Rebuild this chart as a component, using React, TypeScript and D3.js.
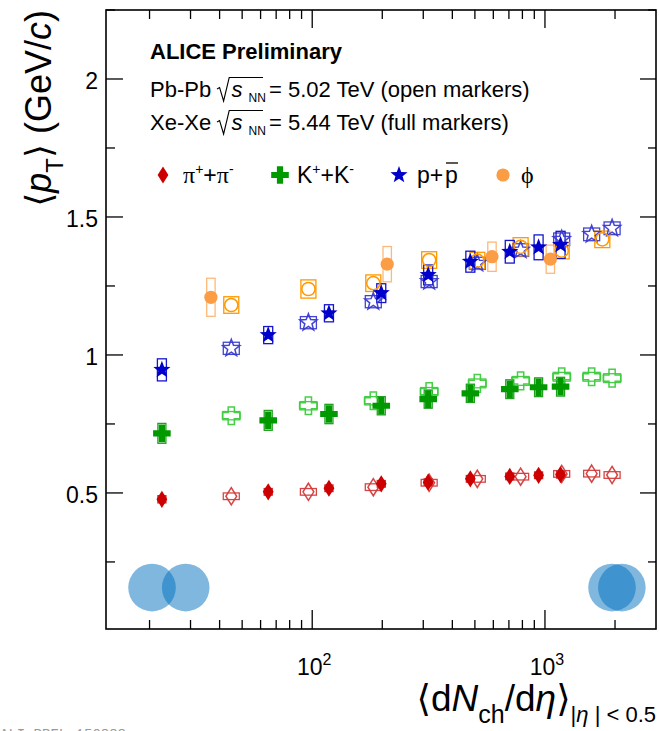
import React from 'react';
import * as d3 from 'd3';

// <dNch/deta> of the centrality classes
const pbpbMult = [1943, 1587, 1180, 786, 512, 318, 183, 96.3, 44.9];
const xexeMult = [1167, 939, 706, 478, 315, 198, 118, 64.7, 22.6];
const pbpbPhiMult = [1764, 1180, 786, 512, 318, 183, 96.3, 44.9];
const xexePhiMult = [1055, 592, 210, 36.7];

// <pT> (GeV/c), Pb-Pb 5.02 TeV
const pbpbPion = [0.565, 0.570, 0.569, 0.559, 0.551, 0.537, 0.521, 0.504, 0.488];
const pbpbKaon = [0.916, 0.921, 0.921, 0.906, 0.897, 0.867, 0.834, 0.816, 0.780];
const pbpbProton = [1.459, 1.437, 1.419, 1.380, 1.332, 1.266, 1.193, 1.117, 1.024];
const pbpbPhi = [1.419, 1.378, 1.392, 1.342, 1.344, 1.260, 1.239, 1.181];

// <pT> (GeV/c), Xe-Xe 5.44 TeV
const xexePion = [0.566, 0.564, 0.560, 0.551, 0.539, 0.533, 0.517, 0.504, 0.477];
const xexeKaon = [0.885, 0.883, 0.876, 0.861, 0.840, 0.816, 0.786, 0.763, 0.716];
const xexeProton = [1.399, 1.390, 1.374, 1.338, 1.290, 1.224, 1.151, 1.072, 0.946];
const xexePhi = [1.347, 1.356, 1.329, 1.209];

// systematic uncertainties (GeV/c)
const pbpbPionSys = [0.012, 0.012, 0.012, 0.012, 0.012, 0.012, 0.012, 0.012, 0.012];
const pbpbKaonSys = [0.016, 0.016, 0.016, 0.016, 0.016, 0.015, 0.015, 0.015, 0.015];
const pbpbProtonSys = [0.023, 0.023, 0.023, 0.023, 0.022, 0.022, 0.022, 0.022, 0.022];
const pbpbPhiSys = [0.030, 0.030, 0.033, 0.030, 0.030, 0.030, 0.033, 0.030];
const xexePionSys = [0.012, 0.012, 0.012, 0.012, 0.012, 0.012, 0.012, 0.012, 0.013];
const xexeKaonSys = [0.034, 0.034, 0.034, 0.033, 0.033, 0.033, 0.035, 0.036, 0.036];
const xexeProtonSys = [0.049, 0.045, 0.041, 0.038, 0.036, 0.034, 0.031, 0.031, 0.040];
const xexePhiSys = [0.051, 0.053, 0.064, 0.069];

// normalisation bands drawn at the bottom of the frame
const normPositions = [20.5, 28.6, 1942, 2140];
const normLevel = 0.157;

const yMajorTicks = [0.5, 1, 1.5, 2];
const yMinorTicks = [0.25, 0.75, 1.25, 1.75, 2.25];
const xMajorTicks = [100, 1000];
const xTickExponents = ['2', '3'];

const W = 659;
const H = 731;
const X0 = 106;
const X1 = 656;
const Y0 = 629;
const Y1 = 10;

const x = d3.scaleLog().domain([13, 3000]).range([X0, X1]);
const y = d3.scaleLinear().domain([0.007, 2.25]).range([Y0, Y1]);

const FONT = "'Liberation Sans', Arial, Helvetica, 'DejaVu Sans', sans-serif";
const SERIF = "'Liberation Serif', 'DejaVu Serif', serif";

type Shape = 'star' | 'cross' | 'diamond' | 'circle';

function starPath(R: number): string {
  const r = R * 0.42;
  const pts: string[] = [];
  for (let i = 0; i < 10; i++) {
    const a = (-90 + i * 36) * Math.PI / 180;
    const rr = i % 2 === 0 ? R : r;
    pts.push(`${(rr * Math.cos(a)).toFixed(2)},${(rr * Math.sin(a)).toFixed(2)}`);
  }
  return 'M' + pts.join('L') + 'Z';
}

function crossPath(s: number, a: number): string {
  return `M${-a},${-s}H${a}V${-a}H${s}V${a}H${a}V${s}H${-a}V${a}H${-s}V${-a}H${-a}Z`;
}

function diamondPath(w: number, h: number): string {
  return `M0,${-h}L${w},0L0,${h}L${-w},0Z`;
}

function Marker({ shape, cx, cy, color, open, scale = 1, opacity = 1 }: {
  shape: Shape; cx: number; cy: number; color: string; open: boolean; scale?: number; opacity?: number;
}) {
  const fill = open ? 'none' : color;
  const stroke = open ? color : 'none';
  const sw = open ? 1.5 : 0;
  const t = `translate(${cx},${cy})`;
  if (shape === 'circle') {
    return <circle cx={cx} cy={cy} r={6.6 * scale} fill={fill} stroke={stroke} strokeWidth={sw} opacity={opacity} />;
  }
  let d = '';
  if (shape === 'star') d = starPath(9 * scale);
  if (shape === 'cross') d = crossPath(8.8 * scale, 3.1 * scale);
  if (shape === 'diamond') d = diamondPath(5.4 * scale, 8.6 * scale);
  return <path d={d} transform={t} fill={fill} stroke={stroke} strokeWidth={sw} strokeLinejoin="miter" opacity={opacity} />;
}

type Series = {
  mult: number[];
  values: number[];
  sys: number[];
  shape: Shape;
  color: string;
  boxColor: string;
  open: boolean;
  boxHalfWidth: number;
  opacity: number;
};

const series: Series[] = [
  { mult: pbpbMult, values: pbpbPion, sys: pbpbPionSys, shape: 'diamond', color: '#d43b3b', boxColor: '#d43b3b', open: true, boxHalfWidth: 8, opacity: 0.95 },
  { mult: pbpbMult, values: pbpbKaon, sys: pbpbKaonSys, shape: 'cross', color: '#3ccc3c', boxColor: '#3ccc3c', open: true, boxHalfWidth: 8.5, opacity: 0.95 },
  { mult: pbpbMult, values: pbpbProton, sys: pbpbProtonSys, shape: 'star', color: '#3a3ad0', boxColor: '#3a3ad0', open: true, boxHalfWidth: 8, opacity: 0.95 },
  { mult: pbpbPhiMult, values: pbpbPhi, sys: pbpbPhiSys, shape: 'circle', color: '#ff9900', boxColor: '#ff9900', open: true, boxHalfWidth: 7.5, opacity: 1 },
  { mult: xexeMult, values: xexePion, sys: xexePionSys, shape: 'diamond', color: '#cc0000', boxColor: '#d42020', open: false, boxHalfWidth: 4, opacity: 1 },
  { mult: xexeMult, values: xexeKaon, sys: xexeKaonSys, shape: 'cross', color: '#009900', boxColor: '#1fa01f', open: false, boxHalfWidth: 4, opacity: 1 },
  { mult: xexeMult, values: xexeProton, sys: xexeProtonSys, shape: 'star', color: '#0000cc', boxColor: '#1515cc', open: false, boxHalfWidth: 4.5, opacity: 1 },
  { mult: xexePhiMult, values: xexePhi, sys: xexePhiSys, shape: 'circle', color: '#fa9d45', boxColor: '#ffb878', open: false, boxHalfWidth: 4.2, opacity: 1 },
];

const legendItems: { shape: Shape; color: string; mx: number; tx: number }[] = [
  { shape: 'diamond', color: '#cc0000', mx: 163, tx: 183 },
  { shape: 'cross', color: '#009900', mx: 280, tx: 297 },
  { shape: 'star', color: '#0000cc', mx: 399, tx: 417 },
  { shape: 'circle', color: '#fa9d45', mx: 503, tx: 521 },
];

function legendLabel(i: number) {
  const sup = { fontSize: 14 } as const;
  if (i === 0) {
    return (
      <>
        <tspan fontFamily={SERIF} fontSize={24}>π</tspan>
        <tspan {...sup} dy={-9}>+</tspan>
        <tspan dy={9}>+</tspan>
        <tspan fontFamily={SERIF} fontSize={24}>π</tspan>
        <tspan {...sup} dy={-9}>-</tspan>
      </>
    );
  }
  if (i === 1) {
    return (
      <>
        <tspan>K</tspan>
        <tspan {...sup} dy={-9}>+</tspan>
        <tspan dy={9}>+K</tspan>
        <tspan {...sup} dy={-9}>-</tspan>
      </>
    );
  }
  if (i === 2) {
    return (
      <>
        <tspan>p+</tspan>
        <tspan x={445}>p</tspan>
      </>
    );
  }
  return <tspan fontFamily={SERIF} fontSize={24}>ϕ</tspan>;
}

function Radical({ baseline }: { baseline: number }) {
  const b = baseline;
  return (
    <path
      d={`M217,${b - 8} L219.6,${b - 9.5} L223.6,${b + 4} L229.2,${b - 19.5} H263`}
      fill="none"
      stroke="#000"
      strokeWidth={1.1}
    />
  );
}

function EnergyLine({ baseline, system, text }: { baseline: number; system: string; text: string }) {
  return (
    <g>
      <text x={150} y={baseline} fontFamily={FONT} fontSize={22} fill="#000">
        {system}
      </text>
      <Radical baseline={baseline} />
      <text y={baseline} fontFamily={FONT} fontSize={22} fill="#000">
        <tspan x={231.5} fontStyle="italic">s</tspan>
        <tspan x={248.5} dy={5} fontSize={12}>NN</tspan>
        <tspan x={269} dy={-5}>{text}</tspan>
      </text>
    </g>
  );
}

export default function App() {
  const xMinor = x.ticks().filter((t) => t > 13 && t < 3000 && !xMajorTicks.includes(t));

  return (
    <svg
      width={W}
      height={H}
      viewBox={`0 0 ${W} ${H}`}
      style={{ position: 'absolute', left: 0, top: 0, background: '#fff' }}
    >
      <rect x={0} y={0} width={W} height={H} fill="#fff" />

      {/* normalisation uncertainty bands */}
      {normPositions.map((m, i) => (
        <circle key={`n${i}`} cx={x(m)} cy={y(normLevel)} r={23.8} fill="rgb(0,112,190)" fillOpacity={0.5} />
      ))}

      {/* systematic boxes */}
      {series.map((s, si) => (
        <g key={`b${si}`} opacity={s.opacity}>
          {s.mult.map((m, i) => {
            const cx = x(m);
            const top = y(s.values[i] + s.sys[i]);
            const bot = y(s.values[i] - s.sys[i]);
            return (
              <rect
                key={i}
                x={cx - s.boxHalfWidth}
                y={top}
                width={s.boxHalfWidth * 2}
                height={bot - top}
                fill="none"
                stroke={s.boxColor}
                strokeWidth={1.3}
              />
            );
          })}
        </g>
      ))}

      {/* data points */}
      {series.map((s, si) => (
        <g key={`m${si}`}>
          {s.mult.map((m, i) => (
            <Marker
              key={i}
              shape={s.shape}
              cx={x(m)}
              cy={y(s.values[i])}
              color={s.color}
              open={s.open}
              opacity={s.opacity}
            />
          ))}
        </g>
      ))}

      {/* frame */}
      <rect x={X0} y={Y1} width={X1 - X0} height={Y0 - Y1} fill="none" stroke="#000" strokeWidth={1.6} />

      {/* y ticks, left and right */}
      {yMajorTicks.map((t) => (
        <g key={`ym${t}`} stroke="#000" strokeWidth={1.3}>
          <line x1={X0} x2={X0 + 17} y1={y(t)} y2={y(t)} />
          <line x1={X1} x2={X1 - 16} y1={y(t)} y2={y(t)} />
        </g>
      ))}
      {yMinorTicks.map((t) => (
        <g key={`yn${t}`} stroke="#000" strokeWidth={1.3}>
          <line x1={X0} x2={X0 + 9} y1={y(t)} y2={y(t)} />
          <line x1={X1} x2={X1 - 8} y1={y(t)} y2={y(t)} />
        </g>
      ))}
      {yMajorTicks.map((t) => (
        <text key={`yl${t}`} x={98} y={y(t) + 10} textAnchor="end" fontFamily={FONT} fontSize={23} fill="#000">
          {t}
        </text>
      ))}

      {/* x ticks, bottom and top */}
      {xMajorTicks.map((t) => (
        <g key={`xm${t}`} stroke="#000" strokeWidth={1.3}>
          <line x1={x(t)} x2={x(t)} y1={Y0} y2={Y0 - 19} />
          <line x1={x(t)} x2={x(t)} y1={Y1} y2={Y1 + 18} />
        </g>
      ))}
      {xMinor.map((t) => (
        <g key={`xn${t}`} stroke="#000" strokeWidth={1.3}>
          <line x1={x(t)} x2={x(t)} y1={Y0} y2={Y0 - 9} />
          <line x1={x(t)} x2={x(t)} y1={Y1} y2={Y1 + 9} />
        </g>
      ))}
      {xMajorTicks.map((t, i) => (
        <text key={`xl${t}`} x={x(t) + 2} y={675} textAnchor="middle" fontFamily={FONT} fontSize={23} fill="#000">
          <tspan>10</tspan>
          <tspan fontSize={16} dy={-10}>{xTickExponents[i]}</tspan>
        </text>
      ))}

      {/* axis titles */}
      <text
        transform={`translate(51,10) rotate(-90)`}
        textAnchor="end"
        fontFamily={FONT}
        fontSize={36}
        fill="#000"
      >
        <tspan>⟨</tspan>
        <tspan fontStyle="italic">p</tspan>
        <tspan fontSize={24} dy={12}>T</tspan>
        <tspan dy={-12}>⟩ (GeV/</tspan>
        <tspan fontStyle="italic">c</tspan>
        <tspan>)</tspan>
      </text>
      <text x={656} y={711} textAnchor="end" fontFamily={FONT} fontSize={37} fill="#000">
        <tspan>⟨d</tspan>
        <tspan fontStyle="italic">N</tspan>
        <tspan fontSize={25} dy={12}>ch</tspan>
        <tspan dy={-12}>/d</tspan>
        <tspan fontStyle="italic">η</tspan>
        <tspan>⟩</tspan>
        <tspan fontSize={22} dy={11}>|</tspan>
        <tspan fontSize={22} fontStyle="italic">η</tspan>
        <tspan fontSize={22}> | &lt; 0.5</tspan>
      </text>

      {/* header */}
      <text x={150} y={59} fontFamily={FONT} fontSize={22} fontWeight="bold" fill="#000">
        ALICE Preliminary
      </text>
      <EnergyLine baseline={97} system="Pb-Pb" text="= 5.02 TeV (open markers)" />
      <EnergyLine baseline={130} system="Xe-Xe" text="= 5.44 TeV (full markers)" />

      {/* legend */}
      {legendItems.map((l, i) => (
        <g key={`lg${i}`}>
          <Marker shape={l.shape} cx={l.mx} cy={175} color={l.color} open={false} />
          <text x={l.tx} y={183} fontFamily={FONT} fontSize={23} fill="#000">
            {legendLabel(i)}
          </text>
        </g>
      ))}
      <line x1={446} x2={458} y1={163} y2={163} stroke="#000" strokeWidth={1.3} />

      <text x={0} y={739} fontFamily="'Liberation Mono', 'DejaVu Sans Mono', monospace" fontSize={14} fill="#9a9a9a">
        ALI-PREL-150888
      </text>
    </svg>
  );
}
